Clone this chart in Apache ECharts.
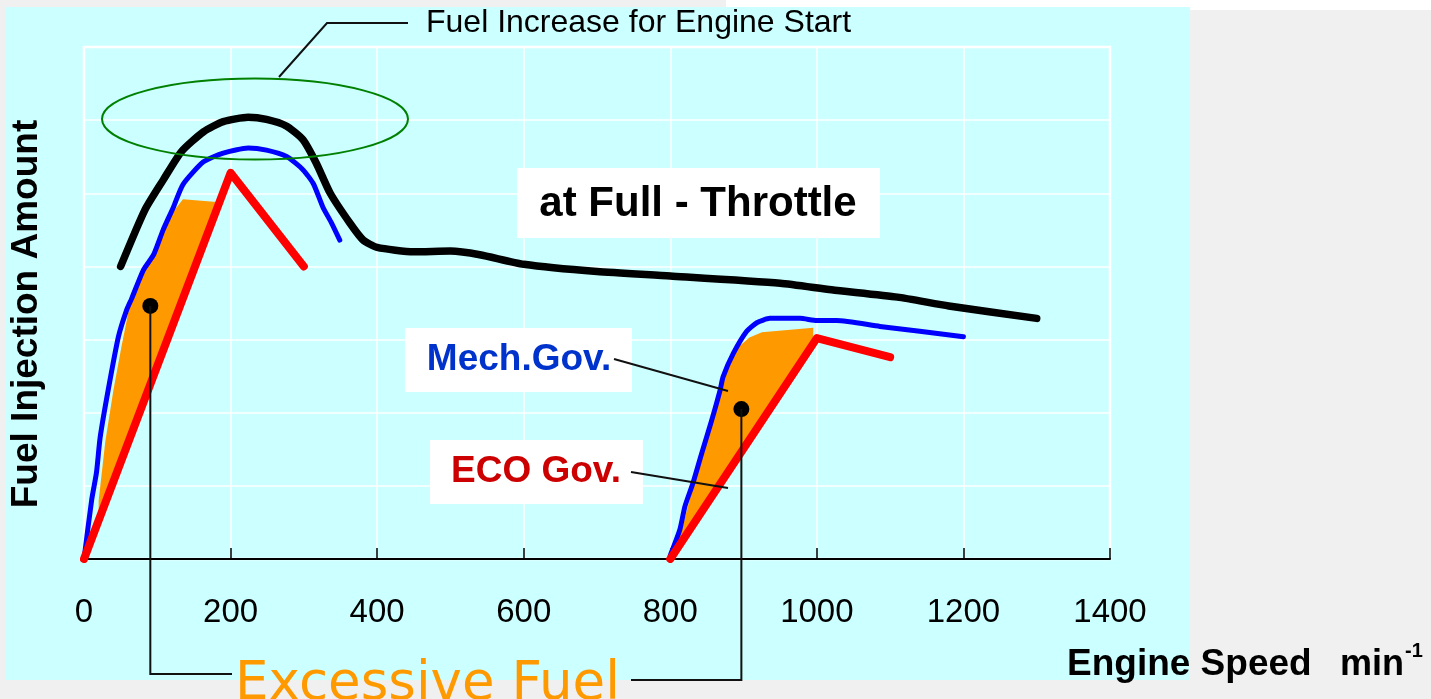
<!DOCTYPE html>
<html>
<head>
<meta charset="utf-8">
<script src="https://cdn.jsdelivr.net/npm/echarts@6/dist/echarts.min.js"></script>
<style>
  html, body { margin: 0; padding: 0; background: #f0f0f0; }
  #chart { width: 1431px; height: 699px; }
</style>
</head>
<body>
<div id="chart"></div>
<script>
// engine speed (min-1) vs fuel injection amount (no units on the axis)
const fullThrottle = [
  [50, 4.0], [83, 4.77], [108, 5.18], [133, 5.57], [163, 5.84], [190, 5.98],
  [224, 6.04], [249, 6.01], [276, 5.92], [299, 5.73], [317, 5.41], [336, 5.0],
  [363, 4.59], [381, 4.36], [400, 4.26], [450, 4.2], [500, 4.21],
  [540, 4.16], [600, 4.03], [700, 3.93], [800, 3.87], [950, 3.77], [1020, 3.68],
  [1110, 3.58], [1180, 3.46], [1300, 3.29]
];
const mechGovStart = [
  [0, 0], [10.5, 0.81], [17, 1.18], [22, 1.66], [33, 2.31], [47, 3.04],
  [58, 3.4], [65, 3.56], [81, 3.95], [95, 4.16], [108, 4.5], [122, 4.81],
  [135, 5.12], [163, 5.43], [190, 5.55], [224, 5.62], [249, 5.59], [277, 5.5],
  [299, 5.32], [313, 5.13], [326, 4.81], [338, 4.59], [349, 4.36]
];
const mechGovRun = [
  [800, 0.05], [813, 0.4], [820, 0.72], [831, 1.04], [843, 1.45], [856, 1.88],
  [868, 2.31], [872, 2.49], [886, 2.81], [904, 3.11], [918, 3.23], [936, 3.29],
  [977, 3.29], [1000, 3.26], [1027, 3.26], [1086, 3.18], [1200, 3.04]
];
const ecoGovStart = [[0, 0], [200, 5.28], [300, 4.0]];
const ecoGovRun = [[800, 0], [1000, 3.02], [1100, 2.76]];
const excessStart = [
  [20, 0.53], [20, 0.8], [29, 1.6], [40, 2.3], [51, 2.9], [62, 3.45], [80, 3.9],
  [95, 4.18], [110, 4.5], [122, 4.75], [135, 4.92], [181, 4.88]
];
const excessRun = [
  [803, 0.08], [817, 0.45], [836, 1.17], [858, 2.0], [870, 2.35], [881, 2.68],
  [893, 2.9], [908, 3.03], [925, 3.1], [995, 3.16], [995, 2.95]
];
const excessDots = [[90.5, 3.46], [897, 2.05]];

const FONT = 'Liberation Sans';
const chart = echarts.init(document.getElementById('chart'));

function lineSeries(data, color, width, z, smooth) {
  return {
    type: 'line', data: data, showSymbol: false, symbol: 'none', z: z,
    smooth: smooth || false,
    lineStyle: { color: color, width: width, cap: 'round', join: 'round' },
    silent: true, animation: false
  };
}

const option = {
  backgroundColor: 'transparent',
  animation: false,
  grid: { left: 84, right: 321, top: 47, bottom: 140, show: true, borderColor: '#fff', borderWidth: 2.5, backgroundColor: 'transparent' },
  xAxis: {
    type: 'value', min: 0, max: 1400, interval: 200,
    axisLine: { lineStyle: { color: '#000', width: 2 } },
    axisTick: { inside: true, length: 11, lineStyle: { color: '#000', width: 1.5 } },
    axisLabel: { color: '#000', fontSize: 33, fontFamily: FONT, margin: 37, formatter: v => String(v) },
    splitLine: { lineStyle: { color: '#fff', width: 1.5 } }
  },
  yAxis: {
    type: 'value', min: 0, max: 7, interval: 1,
    axisLabel: { show: false }, axisLine: { show: false }, axisTick: { show: false },
    splitLine: { lineStyle: { color: '#fff', width: 1.5 } }
  },
  series: [
    {
      type: 'custom', z: 3, silent: true,
      data: [0, 1],
      renderItem: function (params, api) {
        const poly = params.dataIndex === 0 ? excessStart : excessRun;
        return {
          type: 'polygon',
          shape: { points: poly.map(p => api.coord(p)) },
          style: { fill: '#ff9900' }
        };
      }
    },
    lineSeries(fullThrottle, '#000', 7.5, 4, 0.2),
    lineSeries(mechGovStart, '#0000ff', 5, 5, 0.2),
    lineSeries(mechGovRun, '#0000ff', 5, 5, 0.2),
    lineSeries(ecoGovStart, '#ff0000', 8, 6),
    lineSeries(ecoGovRun, '#ff0000', 8, 6),
    {
      type: 'scatter', data: excessDots, symbolSize: 16, z: 8, silent: true,
      itemStyle: { color: '#000', opacity: 1 }
    }
  ]
};
chart.setOption(option);

const d1 = chart.convertToPixel({ gridIndex: 0 }, excessDots[0]);
const d2 = chart.convertToPixel({ gridIndex: 0 }, excessDots[1]);
const lead = { stroke: '#111', lineWidth: 2, fill: null };

chart.setOption({
  graphic: [
    // backgrounds
    { type: 'rect', z: -20, silent: true, shape: { x: 726, y: 0, width: 705, height: 10 }, style: { fill: '#fff' } },
    { type: 'rect', z: -10, silent: true, shape: { x: 5, y: 7, width: 1185, height: 673 }, style: { fill: '#ccffff' } },
    // fuel increase callout
    { type: 'ellipse', z: 50, shape: { cx: 255, cy: 119, rx: 153, ry: 40.5 }, style: { fill: null, stroke: '#008000', lineWidth: 2 } },
    { type: 'polyline', z: 50, shape: { points: [[279, 77], [327, 23], [408, 23]] }, style: lead },
    { type: 'text', z: 50, x: 426, y: 23, style: { text: 'Fuel Increase for Engine Start', font: '32px ' + FONT, fill: '#000', align: 'left', verticalAlign: 'middle' } },
    // full throttle box
    { type: 'rect', z: 50, shape: { x: 517, y: 168, width: 363, height: 70 }, style: { fill: '#fff' } },
    { type: 'text', z: 51, x: 698, y: 204, style: { text: 'at Full - Throttle', font: 'bold 42px ' + FONT, fill: '#000', align: 'center', verticalAlign: 'middle' } },
    // governor labels
    { type: 'rect', z: 50, shape: { x: 405, y: 328, width: 227, height: 64 }, style: { fill: '#fff' } },
    { type: 'text', z: 51, x: 519, y: 360, style: { text: 'Mech.Gov.', font: 'bold 37px ' + FONT, fill: '#0033cc', align: 'center', verticalAlign: 'middle' } },
    { type: 'line', z: 50, shape: { x1: 614, y1: 359, x2: 728, y2: 391 }, style: lead },
    { type: 'rect', z: 50, shape: { x: 430, y: 440, width: 213, height: 64 }, style: { fill: '#fff' } },
    { type: 'text', z: 51, x: 536, y: 472, style: { text: 'ECO Gov.', font: 'bold 37px ' + FONT, fill: '#cc0000', align: 'center', verticalAlign: 'middle' } },
    { type: 'line', z: 50, shape: { x1: 631, y1: 472, x2: 728, y2: 488 }, style: lead },
    // excessive fuel leaders
    { type: 'polyline', z: 50, shape: { points: [[d1[0], d1[1]], [d1[0], 674], [232, 674]] }, style: lead },
    { type: 'polyline', z: 50, shape: { points: [[d2[0], d2[1]], [d2[0], 680], [631, 680]] }, style: lead },
    { type: 'text', z: 51, x: 235, y: 712, style: { text: 'Excessive Fuel', font: '53px DejaVu Sans', fill: '#ff9900', align: 'left', verticalAlign: 'bottom' } },
    // axis names
    { type: 'text', z: 51, x: 27, y: 314, rotation: Math.PI / 2, style: { text: 'Fuel Injection Amount', font: 'bold 37px ' + FONT, fill: '#000', align: 'center', verticalAlign: 'middle' } },
    { type: 'text', z: 51, x: 1067, y: 665, style: { text: 'Engine Speed', font: 'bold 37px ' + FONT, fill: '#000', align: 'left', verticalAlign: 'middle' } },
    { type: 'text', z: 51, x: 1340, y: 665, style: { text: 'min', font: 'bold 36px ' + FONT, fill: '#000', align: 'left', verticalAlign: 'middle' } },
    { type: 'text', z: 51, x: 1405, y: 651, style: { text: '-1', font: 'bold 20px ' + FONT, fill: '#000', align: 'left', verticalAlign: 'middle' } }
  ]
});
</script>
</body>
</html>
